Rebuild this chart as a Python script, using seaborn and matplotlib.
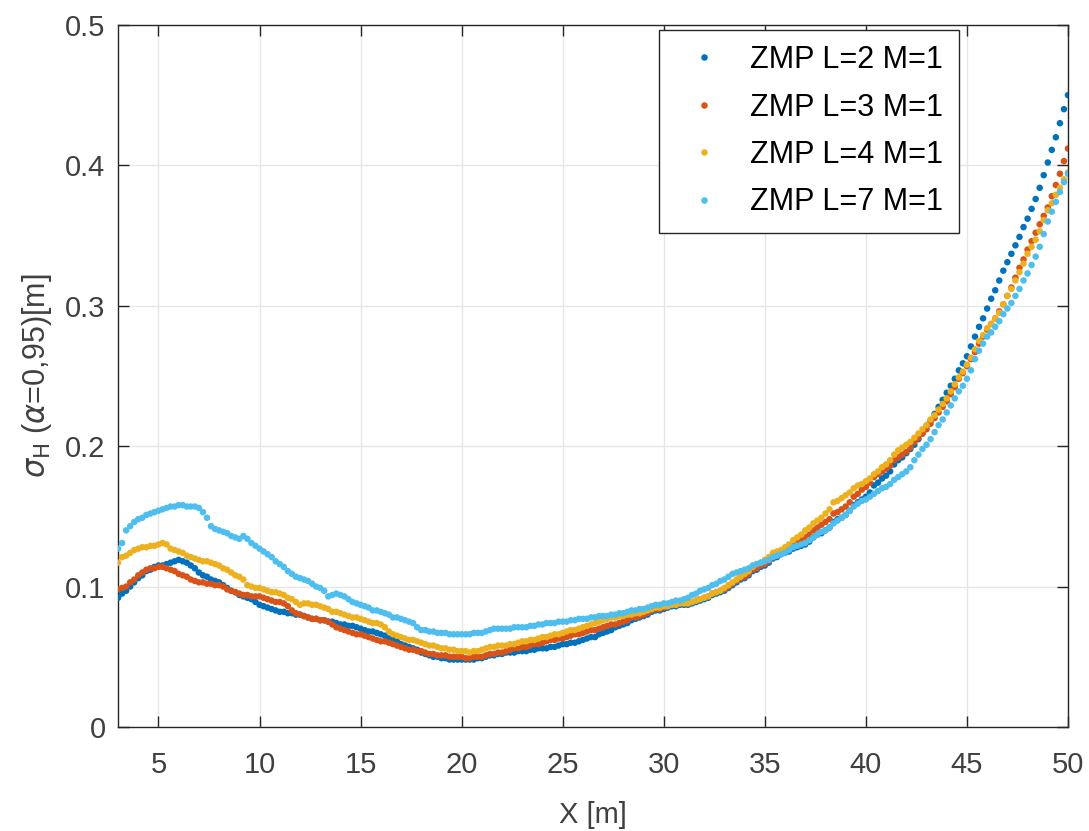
import numpy as np
import pandas as pd
import seaborn as sns
import matplotlib.pyplot as plt

# x grid (0.2 m sampling, 3 .. 50 m)
x_vals = np.round(np.arange(3.0, 50.0001, 0.2), 1)

# sigma_H values, one row per metre (x, x+.2, .. x+.8)
zmp_l2 = [
    0.092, 0.095, 0.097, 0.100, 0.103,
    0.106, 0.108, 0.111, 0.112, 0.114,
    0.115, 0.115, 0.116, 0.117, 0.118,
    0.119, 0.118, 0.117, 0.115, 0.113,
    0.110, 0.108, 0.107, 0.105, 0.104,
    0.103, 0.101, 0.099, 0.097, 0.096,
    0.094, 0.093, 0.092, 0.091, 0.089,
    0.087, 0.086, 0.085, 0.084, 0.083,
    0.082, 0.082, 0.081, 0.081, 0.080,
    0.080, 0.079, 0.078, 0.077, 0.077,
    0.076, 0.076, 0.075, 0.075, 0.074,
    0.073, 0.073, 0.072, 0.072, 0.071,
    0.070, 0.069, 0.068, 0.068, 0.067,
    0.066, 0.065, 0.063, 0.062, 0.061,
    0.059, 0.058, 0.057, 0.056, 0.055,
    0.053, 0.052, 0.051, 0.050, 0.050,
    0.049, 0.049, 0.048, 0.048, 0.048,
    0.048, 0.048, 0.048, 0.048, 0.049,
    0.049, 0.050, 0.051, 0.051, 0.052,
    0.052, 0.053, 0.053, 0.053, 0.054,
    0.054, 0.054, 0.055, 0.055, 0.056,
    0.056, 0.056, 0.057, 0.057, 0.058,
    0.059, 0.059, 0.060, 0.060, 0.061,
    0.062, 0.063, 0.064, 0.064, 0.066,
    0.067, 0.068, 0.069, 0.071, 0.072,
    0.073, 0.074, 0.076, 0.077, 0.078,
    0.079, 0.080, 0.082, 0.083, 0.083,
    0.084, 0.085, 0.086, 0.086, 0.087,
    0.087, 0.087, 0.088, 0.089, 0.090,
    0.091, 0.092, 0.094, 0.095, 0.096,
    0.097, 0.099, 0.101, 0.103, 0.105,
    0.106, 0.108, 0.111, 0.112, 0.114,
    0.115, 0.117, 0.120, 0.121, 0.123,
    0.124, 0.125, 0.127, 0.128, 0.129,
    0.130, 0.132, 0.135, 0.137, 0.138,
    0.140, 0.142, 0.146, 0.148, 0.149,
    0.151, 0.154, 0.158, 0.160, 0.162,
    0.164, 0.167, 0.172, 0.174, 0.177,
    0.179, 0.182, 0.187, 0.190, 0.192,
    0.195, 0.198, 0.201, 0.205, 0.209,
    0.214, 0.218, 0.223, 0.228, 0.233,
    0.238, 0.243, 0.248, 0.254, 0.259,
    0.264, 0.271, 0.278, 0.285, 0.291,
    0.298, 0.305, 0.311, 0.318, 0.325,
    0.331, 0.337, 0.343, 0.349, 0.356,
    0.362, 0.369, 0.376, 0.384, 0.393,
    0.402, 0.411, 0.420, 0.430, 0.440,
    0.450,
]

zmp_l3 = [
    0.098, 0.099, 0.100, 0.103, 0.105,
    0.108, 0.110, 0.112, 0.113, 0.113,
    0.114, 0.114, 0.113, 0.112, 0.111,
    0.109, 0.108, 0.107, 0.105, 0.104,
    0.103, 0.103, 0.102, 0.102, 0.101,
    0.101, 0.100, 0.098, 0.097, 0.096,
    0.095, 0.094, 0.094, 0.093, 0.093,
    0.093, 0.092, 0.091, 0.090, 0.089,
    0.089, 0.088, 0.086, 0.083, 0.081,
    0.080, 0.079, 0.078, 0.077, 0.077,
    0.076, 0.076, 0.075, 0.073, 0.071,
    0.070, 0.069, 0.068, 0.067, 0.066,
    0.066, 0.065, 0.064, 0.063, 0.062,
    0.061, 0.061, 0.060, 0.059, 0.058,
    0.057, 0.056, 0.055, 0.055, 0.054,
    0.054, 0.053, 0.052, 0.052, 0.051,
    0.051, 0.051, 0.050, 0.050, 0.050,
    0.050, 0.049, 0.049, 0.050, 0.050,
    0.050, 0.051, 0.052, 0.052, 0.053,
    0.053, 0.054, 0.055, 0.056, 0.056,
    0.057, 0.057, 0.058, 0.059, 0.059,
    0.060, 0.061, 0.062, 0.062, 0.063,
    0.063, 0.064, 0.065, 0.066, 0.066,
    0.067, 0.068, 0.069, 0.069, 0.070,
    0.071, 0.072, 0.073, 0.073, 0.074,
    0.075, 0.076, 0.078, 0.078, 0.079,
    0.080, 0.081, 0.083, 0.084, 0.084,
    0.085, 0.086, 0.087, 0.087, 0.088,
    0.088, 0.088, 0.089, 0.090, 0.091,
    0.092, 0.093, 0.095, 0.096, 0.097,
    0.098, 0.100, 0.102, 0.104, 0.106,
    0.107, 0.109, 0.112, 0.113, 0.115,
    0.116, 0.118, 0.121, 0.122, 0.124,
    0.126, 0.127, 0.130, 0.131, 0.133,
    0.135, 0.137, 0.140, 0.142, 0.144,
    0.146, 0.148, 0.152, 0.153, 0.155,
    0.157, 0.160, 0.164, 0.166, 0.169,
    0.171, 0.174, 0.178, 0.180, 0.182,
    0.184, 0.186, 0.190, 0.192, 0.194,
    0.196, 0.199, 0.203, 0.206, 0.209,
    0.212, 0.216, 0.220, 0.224, 0.228,
    0.232, 0.237, 0.242, 0.248, 0.252,
    0.257, 0.262, 0.267, 0.273, 0.278,
    0.283, 0.287, 0.291, 0.296, 0.301,
    0.307, 0.313, 0.320, 0.327, 0.333,
    0.340, 0.346, 0.352, 0.358, 0.364,
    0.370, 0.378, 0.386, 0.394, 0.403,
    0.412,
]

zmp_l4 = [
    0.117, 0.121, 0.122, 0.124, 0.126,
    0.127, 0.128, 0.128, 0.129, 0.129,
    0.130, 0.131, 0.130, 0.127, 0.126,
    0.125, 0.124, 0.122, 0.121, 0.120,
    0.119, 0.118, 0.118, 0.117, 0.116,
    0.115, 0.113, 0.112, 0.110, 0.108,
    0.107, 0.105, 0.101, 0.100, 0.099,
    0.099, 0.098, 0.097, 0.096, 0.096,
    0.095, 0.094, 0.092, 0.091, 0.089,
    0.087, 0.088, 0.088, 0.087, 0.087,
    0.086, 0.085, 0.084, 0.082, 0.082,
    0.081, 0.080, 0.079, 0.078, 0.078,
    0.077, 0.076, 0.075, 0.074, 0.074,
    0.073, 0.071, 0.068, 0.066, 0.065,
    0.064, 0.063, 0.062, 0.062, 0.061,
    0.060, 0.059, 0.058, 0.058, 0.057,
    0.056, 0.056, 0.055, 0.055, 0.054,
    0.054, 0.054, 0.053, 0.054, 0.054,
    0.055, 0.056, 0.057, 0.057, 0.058,
    0.058, 0.058, 0.059, 0.059, 0.060,
    0.061, 0.061, 0.062, 0.062, 0.063,
    0.064, 0.064, 0.065, 0.066, 0.066,
    0.067, 0.068, 0.069, 0.069, 0.070,
    0.071, 0.072, 0.073, 0.074, 0.075,
    0.076, 0.077, 0.078, 0.078, 0.079,
    0.079, 0.080, 0.080, 0.081, 0.081,
    0.082, 0.083, 0.084, 0.085, 0.085,
    0.086, 0.086, 0.087, 0.087, 0.088,
    0.088, 0.088, 0.089, 0.090, 0.091,
    0.092, 0.093, 0.095, 0.096, 0.097,
    0.099, 0.101, 0.103, 0.105, 0.107,
    0.109, 0.111, 0.114, 0.116, 0.117,
    0.119, 0.121, 0.124, 0.125, 0.126,
    0.128, 0.130, 0.133, 0.135, 0.137,
    0.140, 0.142, 0.145, 0.147, 0.149,
    0.152, 0.155, 0.160, 0.161, 0.163,
    0.165, 0.167, 0.170, 0.172, 0.173,
    0.175, 0.177, 0.180, 0.182, 0.185,
    0.187, 0.190, 0.194, 0.197, 0.199,
    0.201, 0.203, 0.206, 0.209, 0.212,
    0.215, 0.219, 0.222, 0.226, 0.230,
    0.234, 0.239, 0.244, 0.249, 0.253,
    0.258, 0.263, 0.269, 0.275, 0.279,
    0.284, 0.287, 0.291, 0.295, 0.301,
    0.307, 0.312, 0.318, 0.324, 0.330,
    0.337, 0.342, 0.347, 0.353, 0.361,
    0.368, 0.373, 0.379, 0.384, 0.390,
    0.395,
]

zmp_l7 = [
    0.127, 0.131, 0.140, 0.143, 0.146,
    0.148, 0.149, 0.151, 0.152, 0.153,
    0.154, 0.155, 0.156, 0.157, 0.157,
    0.158, 0.158, 0.157, 0.157, 0.157,
    0.156, 0.153, 0.149, 0.143, 0.141,
    0.140, 0.139, 0.138, 0.136, 0.135,
    0.134, 0.136, 0.134, 0.131, 0.129,
    0.127, 0.125, 0.123, 0.121, 0.118,
    0.116, 0.114, 0.111, 0.109, 0.107,
    0.106, 0.105, 0.104, 0.102, 0.100,
    0.099, 0.097, 0.093, 0.094, 0.095,
    0.094, 0.093, 0.091, 0.089, 0.088,
    0.087, 0.086, 0.085, 0.083, 0.083,
    0.082, 0.081, 0.080, 0.078, 0.078,
    0.077, 0.076, 0.075, 0.074, 0.071,
    0.069, 0.069, 0.068, 0.068, 0.067,
    0.067, 0.067, 0.066, 0.066, 0.066,
    0.066, 0.066, 0.066, 0.067, 0.067,
    0.067, 0.068, 0.069, 0.070, 0.070,
    0.070, 0.070, 0.070, 0.071, 0.071,
    0.071, 0.071, 0.072, 0.072, 0.073,
    0.073, 0.074, 0.074, 0.074, 0.075,
    0.075, 0.075, 0.076, 0.076, 0.077,
    0.077, 0.077, 0.078, 0.078, 0.079,
    0.079, 0.079, 0.080, 0.080, 0.081,
    0.081, 0.082, 0.083, 0.083, 0.084,
    0.084, 0.085, 0.086, 0.087, 0.087,
    0.088, 0.088, 0.089, 0.090, 0.090,
    0.091, 0.092, 0.094, 0.095, 0.097,
    0.098, 0.099, 0.101, 0.102, 0.104,
    0.105, 0.107, 0.109, 0.110, 0.111,
    0.112, 0.113, 0.115, 0.116, 0.117,
    0.118, 0.119, 0.121, 0.122, 0.123,
    0.124, 0.126, 0.128, 0.129, 0.130,
    0.131, 0.133, 0.135, 0.137, 0.139,
    0.140, 0.142, 0.145, 0.147, 0.149,
    0.151, 0.154, 0.157, 0.159, 0.161,
    0.162, 0.164, 0.166, 0.168, 0.170,
    0.171, 0.173, 0.176, 0.178, 0.180,
    0.182, 0.185, 0.190, 0.194, 0.198,
    0.201, 0.205, 0.210, 0.215, 0.219,
    0.224, 0.229, 0.234, 0.239, 0.243,
    0.248, 0.254, 0.262, 0.268, 0.273,
    0.278, 0.281, 0.285, 0.289, 0.294,
    0.298, 0.302, 0.307, 0.312, 0.318,
    0.323, 0.329, 0.335, 0.342, 0.351,
    0.360, 0.367, 0.374, 0.381, 0.388,
    0.394,
]

series_names = ["ZMP L=2 M=1", "ZMP L=3 M=1", "ZMP L=4 M=1", "ZMP L=7 M=1"]
colors = ["#0072BD", "#D95319", "#EDB120", "#4DBEEE"]
x_ticks = [5, 10, 15, 20, 25, 30, 35, 40, 45, 50]
y_ticks = [0, 0.1, 0.2, 0.3, 0.4, 0.5]

frames = []
for name, vals in zip(series_names, [zmp_l2, zmp_l3, zmp_l4, zmp_l7]):
    frames.append(pd.DataFrame({"x": x_vals, "sigma": vals, "series": name}))
data = pd.concat(frames, ignore_index=True)

sns.set_theme(style="whitegrid")
plt.rcParams["font.family"] = ["Liberation Sans", "DejaVu Sans"]
plt.rcParams["mathtext.fontset"] = "dejavusans"

fig = plt.figure(figsize=(10.89, 8.31), dpi=100)
ax = fig.add_axes([0.1084, 0.1252, 0.8723, 0.8448])

sns.scatterplot(data=data, x="x", y="sigma", hue="series", hue_order=series_names,
                palette=colors, s=22, linewidth=0, ax=ax, zorder=3)

ax.set_xlim(3, 50)
ax.set_ylim(0, 0.5)
ax.set_xticks(x_ticks)
ax.set_yticks(y_ticks)
ax.set_yticklabels([f"{v:g}" for v in y_ticks])

ax.grid(True, color="#e6e6e6", linewidth=1.0)
ax.set_axisbelow(True)
for sp in ax.spines.values():
    sp.set_color("#262626")
    sp.set_linewidth(1.0)
ax.tick_params(axis="both", which="both", direction="in", length=8, width=1.0,
               colors="#262626", labelcolor="#404040", labelsize=21,
               top=True, right=True, bottom=True, left=True)
ax.tick_params(axis="x", pad=17)
ax.tick_params(axis="y", pad=9)

ax.set_xlabel("X [m]", fontsize=21, color="#404040", labelpad=16)
ax.set_ylabel(r"$\sigma_{\mathrm{H}}$ ($\alpha$=0,95)[m]", fontsize=22,
              color="#404040", labelpad=8)

handles, labels = ax.get_legend_handles_labels()
leg = ax.legend(handles, labels, loc="upper left", bbox_to_anchor=(0.569, 0.993),
                borderaxespad=0, fontsize=22, frameon=True, fancybox=False,
                framealpha=1, edgecolor="#262626", handletextpad=0.5,
                borderpad=0.5, labelspacing=0.57, handlelength=2.0, markerscale=1.0)
leg.get_frame().set_linewidth(1.0)
for t in leg.get_texts():
    t.set_color("black")

fig.savefig("out.png", dpi=100)
